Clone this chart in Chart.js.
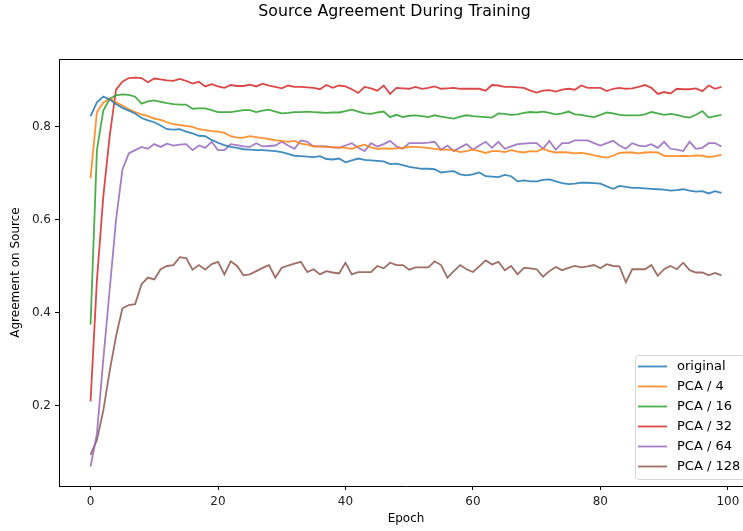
<!DOCTYPE html>
<html>
<head>
<meta charset="utf-8">
<script src="https://cdn.jsdelivr.net/npm/chart.js@4.4.1/dist/chart.umd.min.js"></script>
<style>
  html, body { margin: 0; padding: 0; background: #fff; overflow: hidden; }
  #wrap { position: relative; width: 760px; height: 531px; }
</style>
</head>
<body>
<div id="wrap"><canvas id="agreeChart"></canvas></div>
<script>
const title = 'Source Agreement During Training';
const xLabel = 'Epoch';
const yLabel = 'Agreement on Source';

const epochs = Array.from({ length: 100 }, (_, i) => i);
const xTicks = [0, 20, 40, 60, 80, 100];
const yTicks = [0.2, 0.4, 0.6, 0.8];

const seriesNames = ['original', 'PCA / 4', 'PCA / 16', 'PCA / 32', 'PCA / 64', 'PCA / 128'];
const seriesColors = ['rgba(31,119,180,0.85)', 'rgba(255,127,14,0.85)', 'rgba(44,160,44,0.85)',
                      'rgba(214,39,40,0.85)', 'rgba(148,103,189,0.85)', 'rgba(140,86,75,0.85)'];

const original = [
  0.823, 0.853, 0.865, 0.859, 0.849, 0.841, 0.835, 0.829, 0.819, 0.814,
  0.810, 0.803, 0.795, 0.794, 0.795, 0.790, 0.786, 0.781, 0.780, 0.772,
  0.766, 0.761, 0.757, 0.755, 0.752, 0.751, 0.750, 0.750, 0.749, 0.748,
  0.746, 0.742, 0.738, 0.737, 0.736, 0.735, 0.737, 0.731, 0.730, 0.732,
  0.724, 0.728, 0.732, 0.729, 0.728, 0.727, 0.726, 0.720, 0.721, 0.718,
  0.714, 0.712, 0.710, 0.710, 0.709, 0.702, 0.704, 0.705, 0.698, 0.696,
  0.698, 0.702, 0.694, 0.693, 0.692, 0.697, 0.694, 0.683, 0.685, 0.683,
  0.683, 0.686, 0.687, 0.683, 0.679, 0.677, 0.678, 0.680, 0.680, 0.679,
  0.678, 0.672, 0.667, 0.673, 0.671, 0.669, 0.669, 0.668, 0.667, 0.666,
  0.665, 0.663, 0.664, 0.666, 0.663, 0.661, 0.662, 0.657, 0.662, 0.658
];
const pca4 = [
  0.690, 0.832, 0.852, 0.861, 0.853, 0.846, 0.838, 0.832, 0.827, 0.823,
  0.818, 0.815, 0.810, 0.806, 0.804, 0.802, 0.800, 0.795, 0.793, 0.791,
  0.790, 0.787, 0.780, 0.777, 0.777, 0.780, 0.778, 0.776, 0.774, 0.771,
  0.770, 0.768, 0.770, 0.764, 0.762, 0.758, 0.758, 0.757, 0.756, 0.756,
  0.755, 0.753, 0.758, 0.762, 0.756, 0.753, 0.754, 0.753, 0.754, 0.755,
  0.757, 0.757, 0.756, 0.755, 0.753, 0.751, 0.751, 0.750, 0.746, 0.748,
  0.751, 0.748, 0.744, 0.748, 0.748, 0.746, 0.750, 0.747, 0.745, 0.748,
  0.747, 0.753, 0.748, 0.745, 0.746, 0.745, 0.743, 0.744, 0.742, 0.739,
  0.736, 0.734, 0.738, 0.744, 0.745, 0.745, 0.743, 0.745, 0.746, 0.745,
  0.738, 0.737, 0.737, 0.738, 0.737, 0.739, 0.738, 0.735, 0.737, 0.740
];
const pca16 = [
  0.375, 0.750, 0.835, 0.860, 0.868, 0.870, 0.869, 0.865, 0.850, 0.855,
  0.857, 0.854, 0.851, 0.849, 0.848, 0.848, 0.839, 0.840, 0.840, 0.836,
  0.832, 0.832, 0.832, 0.834, 0.836, 0.836, 0.832, 0.835, 0.837, 0.833,
  0.829, 0.830, 0.832, 0.832, 0.833, 0.832, 0.831, 0.830, 0.831, 0.831,
  0.834, 0.837, 0.833, 0.829, 0.828, 0.831, 0.833, 0.821, 0.826, 0.821,
  0.824, 0.825, 0.823, 0.821, 0.825, 0.822, 0.820, 0.818, 0.822, 0.825,
  0.823, 0.822, 0.821, 0.820, 0.829, 0.828, 0.826, 0.827, 0.830, 0.832,
  0.831, 0.833, 0.830, 0.827, 0.829, 0.833, 0.827, 0.826, 0.823, 0.821,
  0.826, 0.831, 0.829, 0.826, 0.825, 0.825, 0.825, 0.827, 0.832, 0.829,
  0.826, 0.828, 0.826, 0.822, 0.820, 0.826, 0.834, 0.820, 0.823, 0.826
];
const pca32 = [
  0.210, 0.470, 0.650, 0.780, 0.880, 0.897, 0.905, 0.906, 0.905, 0.896,
  0.904, 0.902, 0.900, 0.899, 0.903, 0.899, 0.893, 0.897, 0.887, 0.892,
  0.887, 0.884, 0.890, 0.888, 0.888, 0.891, 0.887, 0.893, 0.889, 0.886,
  0.883, 0.889, 0.886, 0.886, 0.885, 0.884, 0.881, 0.890, 0.884, 0.889,
  0.887, 0.881, 0.873, 0.886, 0.883, 0.878, 0.889, 0.871, 0.884, 0.883,
  0.882, 0.886, 0.882, 0.884, 0.887, 0.882, 0.883, 0.884, 0.882, 0.882,
  0.882, 0.882, 0.878, 0.890, 0.889, 0.886, 0.886, 0.885, 0.884, 0.878,
  0.874, 0.878, 0.879, 0.876, 0.880, 0.882, 0.880, 0.889, 0.884, 0.884,
  0.884, 0.877, 0.882, 0.884, 0.882, 0.883, 0.886, 0.890, 0.884, 0.871,
  0.875, 0.872, 0.882, 0.881, 0.881, 0.883, 0.877, 0.889, 0.882, 0.886
];
const pca64 = [
  0.070, 0.140, 0.300, 0.450, 0.600, 0.708, 0.743, 0.750, 0.757, 0.753,
  0.763, 0.757, 0.764, 0.760, 0.762, 0.763, 0.750, 0.760, 0.755, 0.768,
  0.750, 0.750, 0.763, 0.761, 0.758, 0.757, 0.765, 0.758, 0.759, 0.760,
  0.768, 0.760, 0.753, 0.771, 0.768, 0.758, 0.758, 0.758, 0.756, 0.755,
  0.760, 0.765, 0.755, 0.748, 0.765, 0.758, 0.763, 0.770, 0.758, 0.753,
  0.765, 0.765, 0.765, 0.766, 0.768, 0.751, 0.760, 0.748, 0.756, 0.763,
  0.751, 0.760, 0.768, 0.755, 0.768, 0.753, 0.758, 0.763, 0.764, 0.765,
  0.765, 0.753, 0.770, 0.751, 0.765, 0.765, 0.771, 0.771, 0.771, 0.765,
  0.760, 0.765, 0.770, 0.760, 0.753, 0.765, 0.760, 0.758, 0.763, 0.755,
  0.768, 0.753, 0.751, 0.748, 0.768, 0.753, 0.755, 0.765, 0.765, 0.758
];
const pca128 = [
  0.095, 0.127, 0.190, 0.275, 0.350, 0.410, 0.417, 0.419, 0.462, 0.476,
  0.472, 0.494, 0.501, 0.503, 0.520, 0.518, 0.493, 0.503, 0.493, 0.505,
  0.510, 0.483, 0.511, 0.501, 0.481, 0.483, 0.490, 0.497, 0.503, 0.476,
  0.497, 0.502, 0.506, 0.510, 0.488, 0.494, 0.483, 0.490, 0.487, 0.485,
  0.508, 0.483, 0.488, 0.488, 0.488, 0.501, 0.496, 0.508, 0.503, 0.503,
  0.493, 0.498, 0.498, 0.498, 0.511, 0.503, 0.476, 0.490, 0.503, 0.494,
  0.488, 0.500, 0.513, 0.504, 0.510, 0.492, 0.501, 0.483, 0.497, 0.496,
  0.494, 0.478, 0.490, 0.499, 0.492, 0.497, 0.501, 0.498, 0.500, 0.503,
  0.496, 0.505, 0.501, 0.500, 0.466, 0.494, 0.494, 0.494, 0.503, 0.480,
  0.494, 0.501, 0.494, 0.508, 0.492, 0.487, 0.487, 0.481, 0.486, 0.481
];
const seriesValues = [original, pca4, pca16, pca32, pca64, pca128];

const FONT = '"DejaVu Sans", sans-serif';

// title, axis labels, top frame line and a matplotlib-like legend box
const decorations = {
    id: 'decorations',
    afterDraw(chart) {
        const { ctx, chartArea: a } = chart;
        ctx.save();
        ctx.strokeStyle = '#000';
        ctx.lineWidth = 1;
        ctx.beginPath();
        ctx.moveTo(a.left, Math.round(a.top) + 0.5);
        ctx.lineTo(a.right, Math.round(a.top) + 0.5);
        ctx.moveTo(Math.round(a.right) + 0.5, a.top);
        ctx.lineTo(Math.round(a.right) + 0.5, a.bottom);
        ctx.stroke();

        ctx.fillStyle = '#000';
        ctx.textAlign = 'center';
        ctx.textBaseline = 'middle';
        ctx.font = '15.8px ' + FONT;
        ctx.fillText(title, 394.5, 12);

        ctx.font = '12px ' + FONT;
        ctx.fillText(xLabel, (a.left + a.right) / 2, 519);
        ctx.save();
        ctx.translate(16, (a.top + a.bottom) / 2);
        ctx.rotate(-Math.PI / 2);
        ctx.fillText(yLabel, 0, 0);
        ctx.restore();

        // legend
        const bx = 635.5, by = 355.5, bw = 130, bh = 124;
        ctx.beginPath();
        ctx.roundRect(bx, by, bw, bh, 3);
        ctx.fillStyle = 'rgba(255,255,255,0.8)';
        ctx.fill();
        ctx.strokeStyle = '#d6d6d6';
        ctx.stroke();
        ctx.textAlign = 'left';
        ctx.font = '13px ' + FONT;
        chart.data.datasets.forEach((ds, i) => {
            const y = 366.5 + i * 20;
            ctx.strokeStyle = ds.borderColor;
            ctx.lineWidth = 1.8;
            ctx.beginPath();
            ctx.moveTo(638, y);
            ctx.lineTo(667, y);
            ctx.stroke();
            ctx.fillStyle = '#000';
            ctx.fillText(ds.label, 677, y + 0.5);
        });
        ctx.restore();
    }
};

new Chart(document.getElementById('agreeChart').getContext('2d'), {
    type: 'line',
    data: {
        datasets: seriesNames.map((name, i) => ({
            label: name,
            data: seriesValues[i].map((v, j) => ({ x: epochs[j], y: v })),
            borderColor: seriesColors[i],
            borderWidth: 1.8,
            pointRadius: 0,
            tension: 0,
            fill: false
        }))
    },
    options: {
        responsive: true,
        maintainAspectRatio: false,
        animation: false,
        layout: { padding: { top: 59, left: 0, right: 7, bottom: 0 } },
        scales: {
            x: {
                type: 'linear',
                min: -4.95,
                max: 103.95,
                afterBuildTicks: (s) => { s.ticks = xTicks.map(v => ({ value: v })); },
                afterFit: (s) => { s.height = 45; },
                border: { display: true, color: '#000', width: 1 },
                grid: { drawOnChartArea: false, drawTicks: true, tickLength: 4, color: '#000' },
                ticks: { color: '#222', padding: 5, maxRotation: 0, font: { family: FONT, size: 12 } }
            },
            y: {
                min: 0.028,
                max: 0.946,
                afterBuildTicks: (s) => { s.ticks = yTicks.map(v => ({ value: v })); },
                afterFit: (s) => { s.width = 59; },
                border: { display: true, color: '#000', width: 1 },
                grid: { drawOnChartArea: false, drawTicks: true, tickLength: 4, color: '#000' },
                ticks: {
                    color: '#222', padding: 4, font: { family: FONT, size: 12 },
                    callback: (v) => v.toFixed(1)
                }
            }
        },
        plugins: {
            legend: { display: false },
            tooltip: { enabled: false }
        }
    },
    plugins: [decorations]
});
</script>
</body>
</html>
